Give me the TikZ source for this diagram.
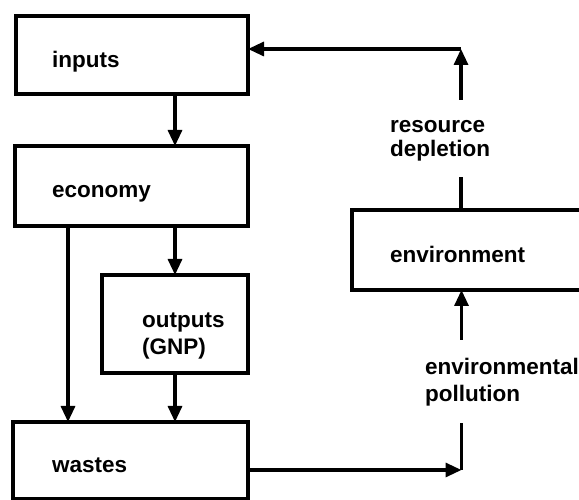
\documentclass[tikz,border=0pt]{standalone}
\usepackage{fontspec}
\setmainfont{Liberation Sans}
\usetikzlibrary{arrows.meta}
\begin{document}
\begin{tikzpicture}[x=1pt,y=1pt,
  box/.style={draw,line width=3.2pt,inner sep=0pt,outer sep=0pt},
  lbl/.style={inner sep=0pt,anchor=base west,align=left,font=\fontsize{22.5}{27}\selectfont\bfseries},
  arr/.style={line width=3.2pt,-{Triangle[length=16pt,width=14pt]}},
  ln/.style={line width=3.2pt}]
\useasboundingbox (0,0) rectangle (579,500);
\fill[white] (0,0) rectangle (579,500);
% boxes
\node[box,minimum width=232pt,minimum height=78pt] (inputs) at (132,445) {};
\node[box,minimum width=233pt,minimum height=80pt] (economy) at (131.5,314) {};
\node[box,minimum width=146pt,minimum height=98pt] (outputs) at (175,176) {};
\node[box,minimum width=235pt,minimum height=77pt] (wastes) at (130.5,39.5) {};
\node[box,minimum width=288pt,minimum height=80pt] (env) at (496,250) {};
% texts
\node[lbl] (tin) at (52,432) {inputs};
\node[lbl] (tec) at (52,302) {economy};
\node[lbl] (tout) at (142,145) {outputs\\(GNP)};
\node[lbl] (twa) at (52,27) {wastes};
\node[lbl] (ten) at (390,237) {environment};
\node[lbl,font=\fontsize{22.5}{24}\selectfont\bfseries] (trd) at (390,343) {resource\\depletion};
\node[lbl] (tep) at (425,98) {environmental\\pollution};
% columns
\coordinate (lx) at (68,0);
\coordinate (c1) at (461.5,30);
\coordinate (c2) at (461.5,77);
\coordinate (c3) at (461.5,160);
\coordinate (c4) at (461,323);
\coordinate (c5) at (461,400);
\coordinate (c6) at (461,451);
% connectors
\draw[arr] (inputs.south -| outputs.north) -- (economy.north -| outputs.north);
\draw[arr] (economy.south -| lx) -- (wastes.north -| lx);
\draw[arr] (economy.south -| outputs.north) -- (outputs.north);
\draw[arr] (outputs.south) -- (wastes.north -| outputs.south);
\draw[arr] (wastes.east |- c1) -- (c1);
\draw[ln] (c1) -- (c2);
\draw[arr] (c3) -- (env.south -| c3);
\draw[ln] (env.north -| c4) -- (c4);
\draw[arr] (c5) -- (c6);
\draw[arr] (c6) -- (inputs.east |- c6);
\end{tikzpicture}
\end{document}
